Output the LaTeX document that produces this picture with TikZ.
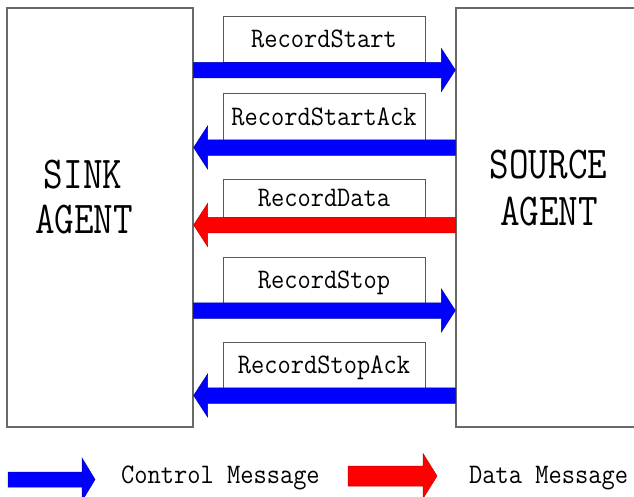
\documentclass[tikz,border=0pt]{standalone}
\usepackage{fontspec}
\setmonofont{Latin Modern Mono}
\usetikzlibrary{calc}

\definecolor{ctrlblue}{RGB}{0,0,255}
\definecolor{datared}{RGB}{255,0,0}
\definecolor{framegray}{RGB}{105,105,105}

% block arrow: style, tail, tip, shaft half-width, head half-width, head length
\newcommand\fatarrow[6]{%
  \filldraw[#1] ($(#2)+(0,#4)$) -- ($(#3)!#6pt!(#2)+(0,#4)$)
    -- ($(#3)!#6pt!(#2)+(0,#5)$) -- (#3)
    -- ($(#3)!#6pt!(#2)-(0,#5)$) -- ($(#3)!#6pt!(#2)-(0,#4)$)
    -- ($(#2)-(0,#4)$) -- cycle;}

\newcommand\msgtext[1]{\scalebox{1}[1.1]{\ttfamily\fontsize{25.7}{30}\selectfont #1}}
\newcommand\agenttext[1]{\scalebox{1}[1.2]{\ttfamily\fontsize{38}{44}\selectfont #1}}

\tikzset{
  agent/.style={draw=framegray, line width=1.3pt, fill=white, inner sep=0pt},
  agentlbl/.style={anchor=base, inner sep=0pt},
  msgbox/.style={draw=black!65, line width=0.9pt, fill=white, inner sep=0pt,
    minimum width=202pt, text height=17pt, text depth=0pt},
  ctrl/.style={fill=ctrlblue, draw=ctrlblue!70!black, line width=0.5pt},
  data/.style={fill=datared, draw=datared!75!black, line width=0.5pt},
  legendtext/.style={anchor=base west, inner sep=0pt}
}

\begin{document}
\begin{tikzpicture}[x=1pt, y=-1pt]
  \useasboundingbox (0,0) rectangle (634,496);

  % the two agents
  \node[agent, minimum width=186pt, minimum height=419pt] (sink) at (100,217.5) {};
  \node[agent, minimum width=184pt, minimum height=419pt] (source) at (548,217.5) {};

  \node[agentlbl] (sinkA) at (83,188) {\agenttext{SINK}};
  \node[agentlbl] (sinkB) at (84,233) {\agenttext{AGENT}};
  \node[agentlbl] (srcA) at (548.5,178) {\agenttext{SOURCE}};
  \node[agentlbl] (srcB) at (549,225) {\agenttext{AGENT}};

  % message labels
  \node[msgbox, minimum height=46pt] (m1) at (324,39) {\msgtext{RecordStart}};
  \node[msgbox, minimum height=47pt] (m2) at (324,116.5) {\msgtext{RecordStartAck}};
  \node[msgbox, minimum height=38pt] (m3) at (324,198) {\msgtext{RecordData}};
  \node[msgbox, minimum height=46pt] (m4) at (324,280) {\msgtext{RecordStop}};
  \node[msgbox, minimum height=46pt] (m5) at (324,365) {\msgtext{RecordStopAck}};

  % arrow rows
  \foreach \i/\y in {1/70, 2/147.5, 3/225, 4/310.5, 5/395.5} {
    \coordinate (r\i) at (0,\y);
    \coordinate (s\i) at (sink.east |- r\i);
    \coordinate (t\i) at (source.west |- r\i);
  }

  \fatarrow{ctrl}{s1}{t1}{7.75}{21.5}{14}
  \fatarrow{ctrl}{t2}{s2}{7.75}{21.5}{14}
  \fatarrow{data}{t3}{s3}{7.75}{21.5}{14}
  \fatarrow{ctrl}{s4}{t4}{7.75}{21.5}{14}
  \fatarrow{ctrl}{t5}{s5}{7.75}{21.5}{14}

  % legend
  \coordinate (lb1) at (8,479.5);
  \coordinate (lb2) at (95,479.5);
  \coordinate (lr1) at (348,476);
  \coordinate (lr2) at (437,476);
  \fatarrow{ctrl}{lb1}{lb2}{7.5}{21.5}{13}
  \fatarrow{data}{lr1}{lr2}{10}{22.5}{14}

  \node[legendtext] (lgc) at (121,483) {\msgtext{Control Message}};
  \node[legendtext] (lgd) at (469,483) {\msgtext{Data Message}};
\end{tikzpicture}
\end{document}
